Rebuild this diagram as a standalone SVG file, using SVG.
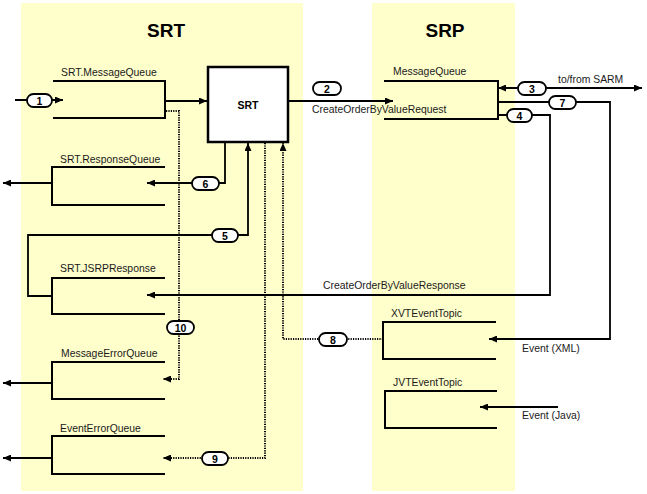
<svg xmlns="http://www.w3.org/2000/svg" width="647" height="494" viewBox="0 0 647 494">
<style>
.panel{fill:#FFFFCC;stroke:none}
.title{font-family:"Liberation Sans",Arial,sans-serif;font-weight:bold;font-size:19px;fill:#000}
.lbl{font-family:"Liberation Sans",Arial,sans-serif;font-size:10.4px;fill:#1a1a1a}
.q{fill:none;stroke:#000;stroke-width:2}
.c{fill:none;stroke:#000;stroke-width:1.8}
.d{fill:none;stroke:#000;stroke-width:2;stroke-dasharray:1.2 1.2}
.pill{fill:#fff;stroke:#000;stroke-width:1.8}
.pt{font-family:"Liberation Sans",Arial,sans-serif;font-weight:bold;font-size:10.5px;text-anchor:middle;fill:#000}
.box{fill:#fff;stroke:#000;stroke-width:2.5}
</style>
<defs>
<marker id="ah" viewBox="0 0 8 7" refX="8" refY="3.5" markerWidth="8" markerHeight="7" markerUnits="userSpaceOnUse" orient="auto">
<path d="M0,0 L8,3.5 L0,7 z" fill="#000"/>
</marker>
<marker id="ahs" viewBox="0 0 8 7" refX="0" refY="3.5" markerWidth="8" markerHeight="7" markerUnits="userSpaceOnUse" orient="auto">
<path d="M8,0 L0,3.5 L8,7 z" fill="#000"/>
</marker>
</defs>
<rect width="647" height="494" fill="#fff"/>
<g id="panel-srt">
<rect class="panel" x="21" y="3" width="282" height="488"/>
<text class="title" x="166" y="37" text-anchor="middle">SRT</text>
</g>
<g id="panel-srp">
<rect class="panel" x="372" y="3" width="143" height="488"/>
<text class="title" x="445" y="37" text-anchor="middle">SRP</text>
</g>
<g id="srt-message-queue">
<text class="lbl" x="61" y="76">SRT.MessageQueue</text>
<path class="q" d="M53,81 H165 V118 H53"/>
</g>
<g id="srt-response-queue">
<text class="lbl" x="60" y="163">SRT.ResponseQueue</text>
<path class="q" d="M165,167 H52 V205 H165"/>
</g>
<g id="srt-jsrp-response">
<text class="lbl" x="60" y="272">SRT.JSRPResponse</text>
<path class="q" d="M165,278 H52 V314 H165"/>
</g>
<g id="message-error-queue">
<text class="lbl" x="61" y="357">MessageErrorQueue</text>
<path class="q" d="M165,362 H52 V399 H165"/>
</g>
<g id="event-error-queue">
<text class="lbl" x="60" y="432">EventErrorQueue</text>
<path class="q" d="M165,436 H52 V474 H165"/>
</g>
<g id="srt-box">
<rect class="box" x="208" y="67" width="80" height="75"/>
<text x="248" y="109" text-anchor="middle" style="font-family:'Liberation Sans',Arial,sans-serif;font-weight:bold;font-size:10.5px">SRT</text>
</g>
<g id="srp-message-queue">
<text class="lbl" x="393" y="75">MessageQueue</text>
<path class="q" d="M384,81 H498 V119 H384"/>
</g>
<g id="xvt-event-topic">
<text class="lbl" x="391" y="317">XVTEventTopic</text>
<path class="q" d="M496,322 H383 V359 H496"/>
</g>
<g id="jvt-event-topic">
<text class="lbl" x="393" y="386">JVTEventTopic</text>
<path class="q" d="M497,391 H385 V428 H497"/>
</g>
<g id="connectors">
<path class="c" d="M15,100 H63" marker-end="url(#ah)"/>
<path class="c" d="M165,101 H207" marker-end="url(#ah)"/>
<path class="c" d="M288,101 H393" marker-end="url(#ah)"/>
<text class="lbl" x="312" y="113">CreateOrderByValueRequest</text>
<path class="c" d="M498,88 H642" marker-start="url(#ahs)" marker-end="url(#ah)"/>
<text class="lbl" x="558" y="83">to/from SARM</text>
<path class="c" d="M498,102 H610 V339 H489" marker-end="url(#ah)"/>
<text class="lbl" x="522" y="352">Event (XML)</text>
<path class="c" d="M498,115 H550 V295 H147" marker-end="url(#ah)"/>
<text class="lbl" x="323" y="289">CreateOrderByValueResponse</text>
<path class="c" d="M225,142 V183 H147" marker-end="url(#ah)"/>
<path class="c" d="M52,296 H28 V235 H248 V143" marker-end="url(#ah)"/>
<path class="c" d="M52,183 H3" marker-end="url(#ah)"/>
<path class="c" d="M52,383 H3" marker-end="url(#ah)"/>
<path class="c" d="M52,458 H3" marker-end="url(#ah)"/>
<path class="c" d="M558,407 H480" marker-end="url(#ah)"/>
<text class="lbl" x="522" y="419">Event (Java)</text>
<path class="d" d="M166,111 H179 V379 H163" marker-end="url(#ah)"/>
<path class="d" d="M265,143 V458 H163" marker-end="url(#ah)"/>
<path class="d" d="M383,339 H283 V143" marker-end="url(#ah)"/>
<rect class="pill" x="27" y="94" width="25" height="13" rx="6.5"/><text class="pt" x="39.5" y="104.5">1</text>
<rect class="pill" x="313" y="82" width="28" height="13" rx="6.5"/><text class="pt" x="327" y="92.5">2</text>
<rect class="pill" x="518" y="82" width="28" height="13" rx="6.5"/><text class="pt" x="532" y="92.5">3</text>
<rect class="pill" x="507" y="109" width="25" height="13" rx="6.5"/><text class="pt" x="519.5" y="119.5">4</text>
<rect class="pill" x="212" y="229" width="26" height="13" rx="6.5"/><text class="pt" x="225" y="239.5">5</text>
<rect class="pill" x="192" y="177" width="27" height="13" rx="6.5"/><text class="pt" x="205.5" y="187.5">6</text>
<rect class="pill" x="549" y="96" width="27" height="13" rx="6.5"/><text class="pt" x="562.5" y="106.5">7</text>
<rect class="pill" x="319" y="333" width="28" height="13" rx="6.5"/><text class="pt" x="333" y="343.5">8</text>
<rect class="pill" x="202" y="452" width="26" height="13" rx="6.5"/><text class="pt" x="215" y="462.5">9</text>
<rect class="pill" x="167" y="321" width="27" height="13" rx="6.5"/><text class="pt" x="180.5" y="331.5">10</text>
</g>
</svg>
